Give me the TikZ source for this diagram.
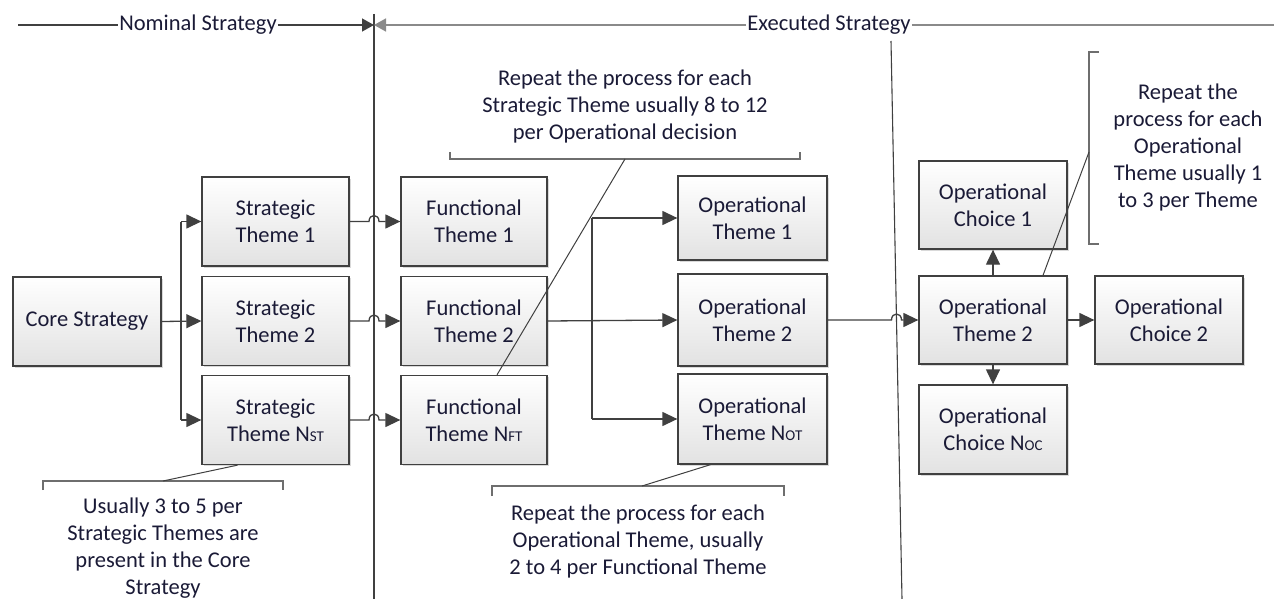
\documentclass[tikz,border=0pt]{standalone}
\usepackage{fontspec}
\setmainfont{Carlito}
\usetikzlibrary{arrows.meta,shadows,calc}
\definecolor{edge}{HTML}{404040}
\definecolor{ink}{HTML}{1A1A36}
\definecolor{shadeb}{HTML}{E2E2E2}
\definecolor{brk}{HTML}{6E6E6E}
\definecolor{rule}{HTML}{8A8A8A}
\newcommand\mainfs{\fontsize{22.5}{27}\selectfont}
\newcommand\lowcap[1]{{\fontsize{15}{15}\selectfont #1}}

\begin{document}
\begin{tikzpicture}[x=1pt,y=-1pt,
  stage/.style={draw=edge, line width=1.3pt, top color=white, bottom color=shadeb,
    align=center, text=ink, font=\mainfs, inner sep=0pt,
    minimum width=147pt, minimum height=89pt,
    drop shadow={shadow xshift=1.5pt, shadow yshift=-1.5pt, opacity=0.3}},
  link/.style={draw=edge, line width=1.3pt},
  tip/.style={-{Triangle[length=15pt,width=14pt]}},
  note/.style={align=center, text=ink, font=\mainfs, inner sep=0pt},
  brace/.style={draw=brk, line width=1.2pt},
  lead/.style={draw=edge, line width=1pt}]

\useasboundingbox (0,0) rectangle (1274,599);

% phase header
\node[note, inner sep=1pt] (nom) at (198,25) {Nominal Strategy};
\node[note, inner sep=1pt] (exe) at (829,25) {Executed Strategy};
\coordinate (sepTop) at (374,14);
\coordinate (sepBot) at (374,599);
\coordinate (hdrL) at (18,25);
\coordinate (hdrR) at (1274,25);
\coordinate (hdrM) at (374,25);
\draw[link] (sepTop) -- (sepBot);
\draw[link] (hdrL) -- (nom.west);
\draw[link,-{Triangle[length=12pt,width=13pt]}] (nom.east) -- (hdrM);
\draw[draw=rule, line width=1.6pt, -{Triangle[length=12pt,width=13pt]}] (exe.west) -- (hdrM);
\draw[draw=rule, line width=1.6pt] (exe.east) -- (hdrR);
\coordinate (slantTop) at (891,41);
\coordinate (slantBot) at (902,599);
\draw[link, line width=1.1pt] (slantTop) -- (slantBot);

% boxes
\node[stage, minimum width=148pt] (core) at (87,321.5) {Core Strategy};
\node[stage] (st1) at (275.5,221.5) {Strategic\\Theme 1};
\node[stage] (st2) at (275.5,321) {Strategic\\Theme 2};
\node[stage] (st3) at (275.5,420) {Strategic\\Theme N\lowcap{ST}};

\node[stage, minimum width=146pt] (ft1) at (474,221.5) {Functional\\Theme 1};
\node[stage, minimum width=146pt] (ft2) at (474,321) {Functional\\Theme 2};
\node[stage, minimum width=146pt] (ft3) at (474,420) {Functional\\Theme N\lowcap{FT}};

\node[stage, minimum width=149pt, minimum height=84pt] (ot1) at (752.5,218) {Operational\\Theme 1};
\node[stage, minimum width=149pt, minimum height=92pt] (ot2) at (752.5,320) {Operational\\Theme 2};
\node[stage, minimum width=149pt, minimum height=90pt] (ot3) at (752.5,419) {Operational\\Theme N\lowcap{OT}};

\node[stage, minimum width=148pt, minimum height=88pt] (oc1) at (993,205) {Operational\\Choice 1};
\node[stage, minimum width=148pt, minimum height=88pt] (otb) at (993,320) {Operational\\Theme 2};
\node[stage, minimum width=148pt, minimum height=89pt] (ocn) at (993,429.5) {Operational\\Choice N\lowcap{OC}};
\node[stage, minimum width=148pt, minimum height=88pt] (oc2) at (1169,320) {Operational\\Choice 2};

% core strategy fan-out
\coordinate (fanA) at (181,221.5);
\coordinate (fanB) at (181,420);
\draw[link,tip] (core.east) -- (st2.west);
\draw[link,tip] (fanA) -- (st1.west);
\draw[link,tip] (fanB) -- (st3.west);
\draw[link] (fanA) -- (fanB);

% strategic to functional, hopping over the separator
\foreach \s/\f in {st1/ft1, st2/ft2, st3/ft3}{
  \draw[link,tip] (\s.east) -- ($(\s.east -| sepTop)+(-5,0)$)
    .. controls +(0,-8) and +(0,-8) .. ($(\s.east -| sepTop)+(5,0)$) -- (\f.west);
}

% functional to operational
\coordinate (fanC) at (592,218);
\coordinate (fanD) at (592,419);
\draw[link,tip] (ft2.east) -- (ot2.west);
\draw[link] (fanC) -- (fanD);
\draw[link,tip] (fanC) -- (ot1.west);
\draw[link,tip] (fanD) -- (ot3.west);

% operational theme expanded
\coordinate (hopB) at (896.5,320);
\draw[link,tip] (ot2.east) -- ($(hopB)+(-5,0)$)
  .. controls +(0,-8) and +(0,-8) .. ($(hopB)+(5,0)$) -- (otb.west);
\draw[link,tip] (otb.north) -- (oc1.south);
\draw[link,tip] (otb.south) -- (ocn.north);
\draw[link,tip] (otb.east) -- (oc2.west);

% callout: strategic themes
\coordinate (bA1) at (450,152);
\coordinate (bA2) at (800,152);
\coordinate (bAm) at (625,159);
\draw[brace] (bA1) -- (450,159) -- (800,159) -- (bA2);
\draw[lead] (bAm) -- ([xshift=23pt]ft3.north);
\node[note] (txA) at (625,107) {Repeat the process for each\\Strategic Theme usually 8 to 12\\per Operational decision};

% callout: operational choices
\coordinate (bB1) at (1099,52);
\coordinate (bB2) at (1099,244);
\coordinate (bBm) at (1089,152);
\draw[brace] (bB1) -- (1089,52) -- (1089,244) -- (bB2);
\draw[lead] (bBm) -- ([xshift=50pt]otb.north);
\node[note] (txB) at (1188,148) {Repeat the\\process for each\\Operational\\Theme usually 1\\to 3 per Theme};

% callout: core strategy
\coordinate (bC1) at (43,490);
\coordinate (bC2) at (283,490);
\coordinate (bCm) at (163,481);
\draw[brace] (bC1) -- (43,481) -- (283,481) -- (bC2);
\draw[lead] (bCm) -- ([xshift=-38pt]st3.south);
\node[note] (txC) at (163,548) {Usually 3 to 5 per\\Strategic Themes are\\present in the Core\\Strategy};

% callout: operational themes
\coordinate (bD1) at (492,496);
\coordinate (bD2) at (784,496);
\coordinate (bDm) at (642,486);
\draw[brace] (bD1) -- (492,486) -- (784,486) -- (bD2);
\draw[lead] (bDm) -- ([xshift=-42pt]ot3.south);
\node[note] (txD) at (638,541) {Repeat the process for each\\Operational Theme, usually\\2 to 4 per Functional Theme};

\end{tikzpicture}
\end{document}
